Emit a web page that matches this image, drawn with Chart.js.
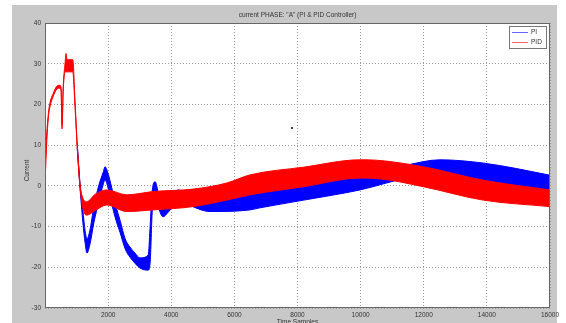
<!DOCTYPE html>
<html>
<head>
<meta charset="utf-8">
<script src="https://cdn.jsdelivr.net/npm/chart.js@4"></script>
<style>
  html, body { margin: 0; padding: 0; background: #fff; }
  #chart { display: block; }
</style>
</head>
<body>
<canvas id="chart" width="566" height="323"></canvas>
<script>
// PID (red) band - upper and lower edge of the noisy trace
const pidX    = [0, 50, 110, 160, 250, 380, 470, 510, 540, 575, 634, 665, 700, 800, 880, 950, 1020, 1110, 1200, 1320, 1600, 1955, 2588, 3430, 4690, 5760, 6500, 8200, 9980, 10500, 11980, 13880, 16000];
const pidHigh = [3, 12, 18, 20.5, 22.5, 24.5, 24.7, 24, 15, 24, 30, 32.5, 31, 31, 31, 21, 10.5, 0.5, -3, -3.9, -2, -1, -2.2, -1.4, -0.8, 0.7, 2.7, 4.6, 6.4, 6.3, 4.7, 1.4, -1.0];
const pidLow  = [0, 10, 17, 19.5, 21.8, 23.8, 24, 23.2, 14, 23, 28, 28, 28, 28, 28, 19.5, 9.5, -0.5, -5.5, -7.2, -6, -4.7, -6.3, -5.9, -5.1, -3.5, -2.2, -0.2, 1.9, 1.8, -0.2, -3.5, -5.1];

// PI (blue) band - its start-up overlaps the red trace, so it is read from where it shows
const piX    = [1020, 1110, 1200, 1270, 1330, 1420, 1550, 1700, 1850, 1900, 1980, 2100, 2250, 2380, 2540, 2690, 2850, 3010, 3270, 3330, 3400, 3490, 3600, 3740, 3900, 4060, 4220, 4500, 5230, 6495, 6810, 8200, 9980, 11470, 12510, 13880, 15940, 16000];
const piHigh = [10.5, 0.5, -6, -11, -13, -11, -5, 0, 3.5, 4.7, 3.5, 0, -5, -8.5, -13, -15, -16.5, -17.7, -17, -10, -1, 1.0, -2, -5.5, -3.5, -2.5, -1.0, -1.8, -2.7, -2.2, -1.5, 0.2, 2.3, 5.1, 6.4, 5.6, 2.7, 2.6];
const piLow  = [9.5, -0.5, -9, -14, -16.5, -14.5, -9, -4, 0.5, 1.5, 0, -4, -8.5, -11.5, -15.5, -17.5, -19, -20.2, -20.7, -19, -6, -2.5, -5.5, -7.6, -6.5, -5, -3.5, -4.5, -6.3, -5.9, -5.4, -3.5, -1.0, 1.9, 2.7, 1.4, -1.4, -1.5];

// stray dot in the plot
const dotX = [7825];
const dotY = [14.2];

const TITLE = 'current PHASE: "A" (PI & PID Controller)';
const XLABEL = 'Time Samples';
const YLABEL = 'Current';
const FONT = '"Liberation Sans", Arial, sans-serif';

const pts = (xs, ys) => xs.map((x, i) => ({x: x, y: ys[i]}));

const data = {
  datasets: [
    {label: 'PID', data: pts(pidX, pidHigh), borderColor: '#ff0000', backgroundColor: '#ff0000', fill: '+1'},
    {label: 'PID low', data: pts(pidX, pidLow), borderColor: '#ff0000', fill: false},
    {label: 'PI', data: pts(piX, piHigh), borderColor: '#0000ff', backgroundColor: '#0000ff', fill: '+1'},
    {label: 'PI low', data: pts(piX, piLow), borderColor: '#0000ff', fill: false},
    {label: 'dot', type: 'scatter', data: pts(dotX, dotY), pointRadius: 1, backgroundColor: '#000', borderWidth: 0}
  ]
};

const frame = {
  id: 'frame',
  beforeDraw: (chart) => {
    const {ctx, chartArea: a} = chart;
    ctx.save();
    ctx.fillStyle = '#c8c8c8';
    ctx.fillRect(12, 5, 545, 318);
    ctx.fillStyle = '#fff';
    ctx.fillRect(a.left, a.top, a.right - a.left, a.bottom - a.top);
    ctx.restore();
  },
  afterDraw: (chart) => {
    const {ctx, chartArea: a} = chart;
    ctx.save();
    // axes box
    ctx.strokeStyle = '#666';
    ctx.lineWidth = 1;
    ctx.strokeRect(a.left + 0.5, a.top + 0.5, a.right - a.left - 1, a.bottom - a.top - 1);

    // texts
    ctx.fillStyle = '#333';
    ctx.font = '6.5px ' + FONT;
    ctx.textAlign = 'center';
    ctx.textBaseline = 'middle';
    ctx.fillText(TITLE, (a.left + a.right) / 2, 15);
    ctx.textBaseline = 'top';
    ctx.fillText(XLABEL, (a.left + a.right) / 2, 319);
    ctx.save();
    ctx.translate(27, (a.top + a.bottom) / 2 + 5);
    ctx.rotate(-Math.PI / 2);
    ctx.textBaseline = 'middle';
    ctx.fillText(YLABEL, 0, 0);
    ctx.restore();

    // legend (PI first, PID second)
    const items = [data.datasets[2], data.datasets[0]];
    ctx.fillStyle = '#fff';
    ctx.fillRect(509.5, 26.5, 37, 22);
    ctx.strokeStyle = '#777';
    ctx.strokeRect(509.5, 26.5, 37, 22);
    ctx.textAlign = 'left';
    ctx.textBaseline = 'middle';
    items.forEach((ds, i) => {
      const y = 32.5 + i * 10;
      ctx.strokeStyle = ds.borderColor;
      ctx.globalAlpha = 0.6;
      ctx.beginPath();
      ctx.moveTo(512, y);
      ctx.lineTo(528, y);
      ctx.stroke();
      ctx.globalAlpha = 1;
      ctx.fillStyle = '#333';
      ctx.fillText(ds.label, 531, y);
    });
    ctx.restore();
  }
};

const tickFont = {family: FONT, size: 6.5};

const options = {
  responsive: false,
  animation: false,
  devicePixelRatio: 1,
  layout: {padding: {left: 0, right: 16, top: 23, bottom: 0}},
  elements: {
    point: {radius: 0},
    line: {borderWidth: 1, cubicInterpolationMode: 'monotone'}
  },
  plugins: {
    legend: {display: false},
    title: {display: false},
    tooltip: {enabled: false}
  },
  scales: {
    x: {
      type: 'linear',
      min: 0, max: 16000,
      ticks: {stepSize: 2000, font: tickFont, color: '#333', padding: 3, maxRotation: 0,
        callback: (v) => v === 0 ? '' : String(v)},
      grid: {color: '#9a9a9a', drawTicks: false},
      border: {display: false, dash: [1, 2]},
      afterFit: (s) => { s.height = 15; }
    },
    y: {
      min: -30, max: 40,
      ticks: {stepSize: 10, font: tickFont, color: '#333', padding: 4},
      grid: {color: '#9a9a9a', drawTicks: false},
      border: {display: false, dash: [1, 2]},
      afterFit: (s) => { s.width = 45; }
    }
  }
};

const config = {
  type: 'line',
  data,
  options,
  plugins: [frame]
};

const $chart = document.getElementById('chart');
const chart = new Chart($chart, config);
</script>
</body>
</html>
